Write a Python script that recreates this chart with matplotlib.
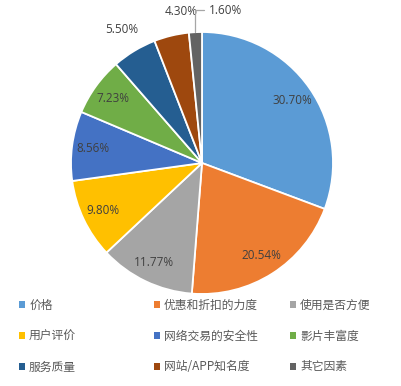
import numpy as np
import matplotlib
matplotlib.use("Agg")
from matplotlib import pyplot as plt

plt.rcParams['font.family'] = ['Noto Sans CJK SC', 'DejaVu Sans']

categories = ["价格", "优惠和折扣的力度", "使用是否方便",
              "用户评价", "网络交易的安全性", "影片丰富度",
              "服务质量", "网站/APP知名度", "其它因素"]
shares = [30.70, 20.54, 11.77, 9.80, 8.56, 7.23, 5.50, 4.30, 1.60]
colors = ["#5B9BD5", "#ED7D31", "#A5A5A5", "#FFC000", "#4472C4",
          "#70AD47", "#255E91", "#9E480E", "#636363"]

W, H, DPI = 402, 386, 100
R_PX = 131          # pie radius in pixels
CX, CY = 202, 163   # pie centre, pixels from top-left
INK = "#404040"

fig = plt.figure(figsize=(W / DPI, H / DPI), dpi=DPI)
ax = fig.add_axes([0, 0, 1, 1])
wedges, _ = ax.pie(shares, colors=colors, startangle=90, counterclock=False,
                   radius=1.0, wedgeprops=dict(edgecolor="white", linewidth=1.3))
ax.set_aspect("auto")
ax.set_xlim(-CX / R_PX, (W - CX) / R_PX)
ax.set_ylim(-(H - CY) / R_PX, CY / R_PX)
ax.axis("off")

# label placement: inside for big slices, outside for the small ones
for i, (w, v) in enumerate(zip(wedges, shares)):
    mid = np.deg2rad((w.theta1 + w.theta2) / 2)
    d = np.array([np.cos(mid), np.sin(mid)])
    txt = f"{v:.2f}%"
    if i < 6:
        x, y = 0.84 * d
        ax.text(x, y, txt, ha="center", va="center", fontsize=8.5,
                color=INK, family=["Open Sans", "DejaVu Sans"])
    elif i < 8:
        nudge = {6: (0, 0), 7: (0.12, 0.0)}[i]
        x, y = 1.19 * d + np.array(nudge)
        ax.text(x, y, txt, ha="center", va="center", fontsize=8.5,
                color=INK, family=["Open Sans", "DejaVu Sans"])
    else:
        edge = 1.0 * d
        ax.annotate(txt, xy=edge, xytext=(edge[0] + 0.1, 1.165),
                    ha="left", va="center", fontsize=8.5, color=INK,
                    family=["Open Sans", "DejaVu Sans"],
                    arrowprops=dict(arrowstyle="-", color="#A6A6A6", lw=0.9,
                                    shrinkA=1, shrinkB=0,
                                    connectionstyle="angle,angleA=0,angleB=90,rad=0"))

# legend: three fixed columns, rows read left to right
col_x = [19, 154, 290]
for c in range(3):
    idx = [c, c + 3, c + 6]
    leg = fig.legend([wedges[k] for k in idx], [categories[k] for k in idx],
                     loc="upper left",
                     bbox_to_anchor=(col_x[c] / W, 1 - 299 / H),
                     frameon=False, fontsize=8.5, labelcolor="#595959",
                     handlelength=0.5, handleheight=0.5, handletextpad=0.35,
                     labelspacing=1.5, borderpad=0, borderaxespad=0)
    for h in leg.legend_handles:
        h.set_edgecolor("none")

fig.savefig("out.png", dpi=DPI, facecolor="white")
